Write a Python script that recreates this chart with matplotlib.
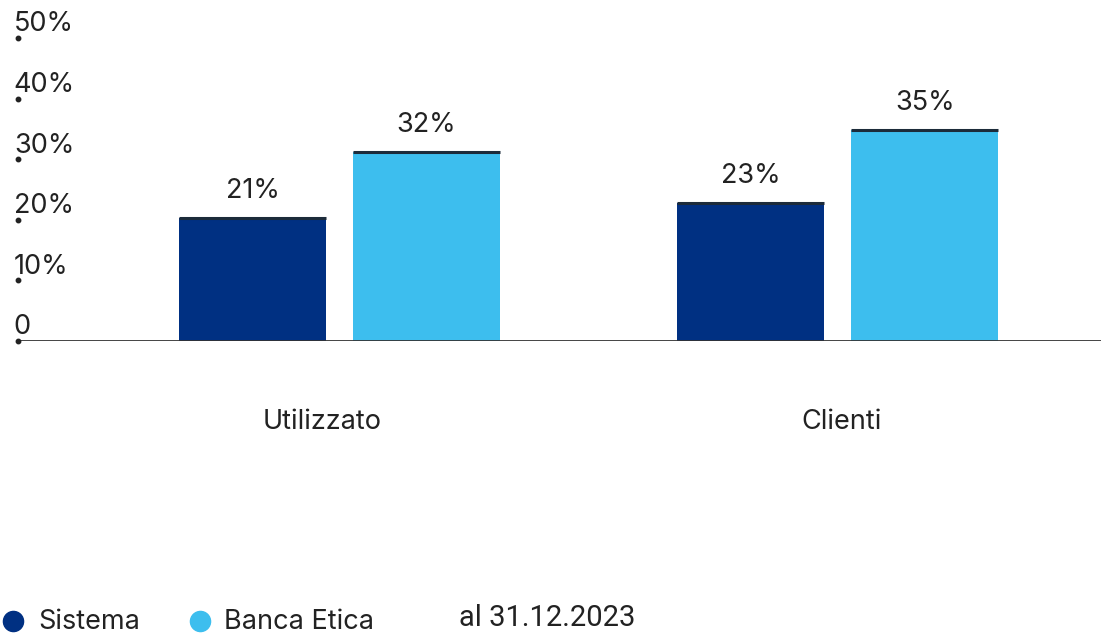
import matplotlib
matplotlib.use("Agg")
import matplotlib.pyplot as plt
from matplotlib.lines import Line2D
from matplotlib.transforms import blended_transform_factory

# Data
categories = ["Utilizzato", "Clienti"]
series_names = ["Sistema", "Banca Etica"]
sistema = [20.3, 22.7]
banca_etica = [31.2, 34.8]
sistema_labels = ["21%", "23%"]
banca_labels = ["32%", "35%"]
yticks = [0, 10, 20, 30, 40, 50]
ytick_labels = ["0", "10%", "20%", "30%", "40%", "50%"]
note = "al 31.12.2023"

colors = ["#003082", "#3DBEEE"]
text_color = "#222222"
font = "Inter"

W, H = 1101, 633
fig = plt.figure(figsize=(W / 100, H / 100), dpi=100)
ax = fig.add_axes([18 / W, 1 - 341 / H, 1 - 18 / W, (341 - 38) / H])

x = list(range(len(categories)))
bw = 0.295
off = 0.1745
for vals, labs, col, sign in [(sistema, sistema_labels, colors[0], -1),
                              (banca_etica, banca_labels, colors[1], 1)]:
    xs = [xi + sign * off for xi in x]
    ax.bar(xs, vals, width=bw, color=col, linewidth=0, zorder=2)
    # dark top edge
    for xi, v in zip(xs, vals):
        ax.plot([xi - bw / 2, xi + bw / 2], [v, v], color="#1c2b3a", lw=2.2,
                solid_capstyle="butt", zorder=3)
    for xi, v, l in zip(xs, vals, labs):
        ax.annotate(l, (xi, v), xytext=(0, 19.5), textcoords="offset points",
                    ha="center", va="center", fontsize=19.5, color=text_color,
                    family=font)

ax.set_xlim(-0.645, 1.528)
ax.set_ylim(0, 50)
for s in ax.spines.values():
    s.set_visible(False)
ax.axhline(0, color="#333333", lw=2, zorder=4)
ax.set_xticks([])
ax.set_yticks([])

# y ticks as dots with labels above
tr = blended_transform_factory(ax.transAxes, ax.transData)
for t, lab in zip(yticks, ytick_labels):
    ax.plot([0], [t], marker="o", ms=3.2, color="#222222", transform=tr,
            clip_on=False, zorder=5)
    ax.annotate(lab, (0, t), xycoords=tr, xytext=(-3, 9.8),
                textcoords="offset points", ha="left", va="center",
                fontsize=19.5, color=text_color, family=font)

# category labels
cat_x = [322, 842]
for cx, c in zip(cat_x, categories):
    fig.text(cx / W, 1 - 422 / H, c, ha="center", va="center", fontsize=19.5,
             color=text_color, family=font)

# legend
leg_items = [(13, 38, series_names[0], colors[0]),
             (200, 224, series_names[1], colors[1])]
for mx, tx, name, col in leg_items:
    fig.add_artist(Line2D([mx / W], [1 - 621 / H], marker="o", ms=14.5,
                          color=col, linestyle="none", transform=fig.transFigure))
    fig.text(tx / W, 1 - 622 / H, name, ha="left", va="center", fontsize=19.5,
             color=text_color, family=font)
fig.text(459 / W, 1 - 618 / H, note, ha="left", va="center", fontsize=21,
         color=text_color, family="Roboto")

fig.savefig("out.png", dpi=100)
